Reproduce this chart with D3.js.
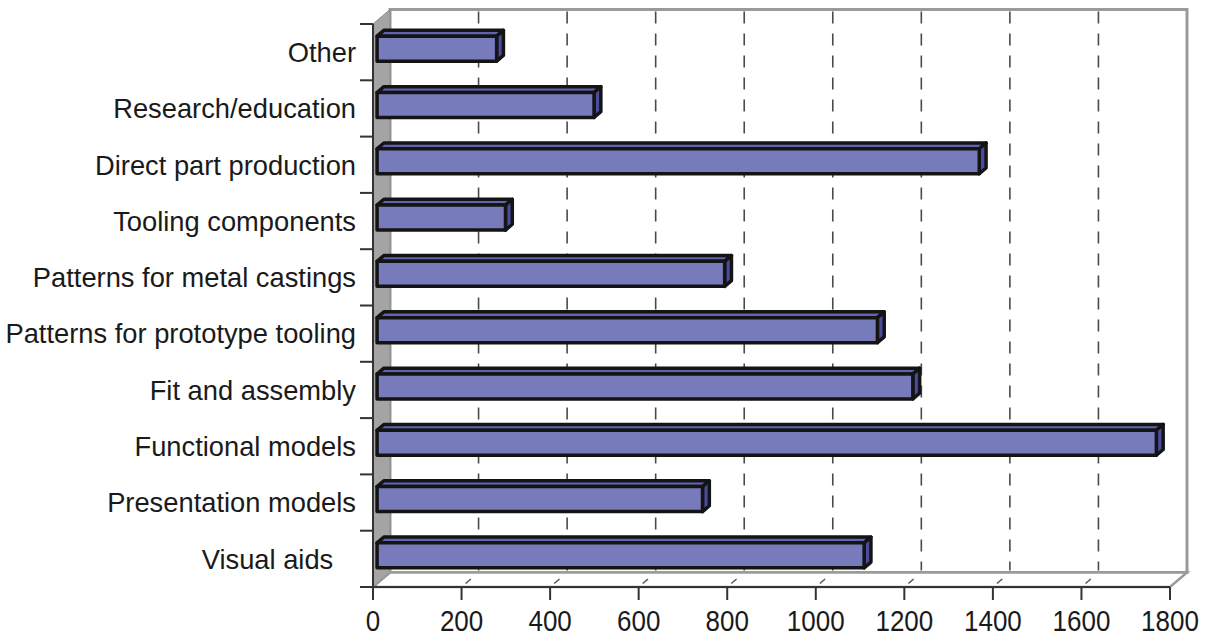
<!DOCTYPE html>
<html>
<head>
<meta charset="utf-8">
<script src="https://cdn.jsdelivr.net/npm/d3@7"></script>
<style>
  html, body { margin: 0; padding: 0; background: #fff; }
  svg { display: block; }
  text { font-family: "Liberation Sans", Arial, sans-serif; fill: #1a1a1a; white-space: pre; }
</style>
</head>
<body>
<div id="chart"></div>
<script>
// categories bottom -> top, as in the picture
const categories = [
  "Visual aids   ",
  "Presentation models",
  "Functional models",
  "Fit and assembly",
  "Patterns for prototype tooling",
  "Patterns for metal castings",
  "Tooling components",
  "Direct part production",
  "Research/education",
  "Other"
];
const values = [1100, 735, 1760, 1210, 1130, 785, 290, 1360, 490, 270];
const xTicks = [0, 200, 400, 600, 800, 1000, 1200, 1400, 1600, 1800];

const width = 1207, height = 637;
const x0 = 373, yTop = 24, yFloor = 587;
const depthX = 17, depthY = 14.5;

const svg = d3.select("#chart").append("svg")
  .attr("width", width)
  .attr("height", height);

const x = d3.scaleLinear().domain([0, 1800]).range([0, 797]);
const y = d3.scaleBand().domain(categories.slice().reverse()).range([yTop, yFloor]);

// value, front-plane y, depth (0 = front, 1 = back wall)
function p(v, yy, d) {
  return [x0 + x(v) + d * depthX, yy - d * depthY];
}
const poly = pts => pts.map(q => q.join(",")).join(" ");

// back wall
svg.append("polygon")
  .attr("points", poly([p(0, yTop, 1), p(1800, yTop, 1), p(1800, yFloor, 1), p(0, yFloor, 1)]))
  .style("fill", "#fff")
  .style("stroke", "#9a9a9a")
  .style("stroke-width", 3);

// side wall
svg.append("polygon")
  .attr("points", poly([p(0, yTop, 0), p(0, yTop, 1), p(0, yFloor, 1), p(0, yFloor, 0)]))
  .style("fill", "#a4a4a4")
  .style("stroke", "#8a8a8a")
  .style("stroke-width", 1);

// floor
svg.append("polygon")
  .attr("points", poly([p(0, yFloor, 0), p(0, yFloor, 1), p(1800, yFloor, 1), p(1800, yFloor, 0)]))
  .style("fill", "#fff")
  .style("stroke", "#9a9a9a")
  .style("stroke-width", 2.5);

// gridlines on back wall
svg.selectAll(".grid")
  .data(xTicks.filter(t => t > 0 && t < 1800))
  .enter().append("line")
  .attr("class", "grid")
  .attr("x1", d => p(d, yTop, 1)[0])
  .attr("x2", d => p(d, yTop, 1)[0])
  .attr("y1", p(0, yTop, 1)[1] + 2)
  .attr("y2", p(0, yFloor, 1)[1] - 2)
  .style("stroke", "#4a4a4a")
  .style("stroke-width", 1.6)
  .style("stroke-dasharray", "12,10");

// short floor ticks
svg.selectAll(".ftick")
  .data(xTicks.filter(t => t > 0 && t < 1800))
  .enter().append("line")
  .attr("x1", d => p(d, yFloor, 0.24)[0])
  .attr("y1", d => p(d, yFloor, 0.24)[1])
  .attr("x2", d => p(d, yFloor, 0.55)[0])
  .attr("y2", d => p(d, yFloor, 0.55)[1])
  .style("stroke", "#555")
  .style("stroke-width", 1.5);

// left axis + category ticks
svg.append("line")
  .attr("x1", x0).attr("x2", x0)
  .attr("y1", yTop).attr("y2", yFloor + 13)
  .style("stroke", "#333").style("stroke-width", 2);

const bounds = y.domain().map(c => y(c)).concat([yFloor]);
svg.selectAll(".ctick")
  .data(bounds)
  .enter().append("line")
  .attr("x1", x0 - 13).attr("x2", x0)
  .attr("y1", d => d).attr("y2", d => d)
  .style("stroke", "#333").style("stroke-width", 2);

// x axis
svg.append("line")
  .attr("x1", x0 - 13).attr("x2", x0 + x(1800))
  .attr("y1", yFloor).attr("y2", yFloor)
  .style("stroke", "#333").style("stroke-width", 2);

svg.selectAll(".xtick")
  .data(xTicks)
  .enter().append("line")
  .attr("x1", d => x0 + x(d)).attr("x2", d => x0 + x(d))
  .attr("y1", yFloor).attr("y2", yFloor + 13)
  .style("stroke", "#333").style("stroke-width", 2);

// tick labels, slightly tall like the original
svg.selectAll(".xlabel")
  .data(xTicks)
  .enter().append("text")
  .attr("transform", d => `translate(${x0 + x(d)},631) scale(1,1.12)`)
  .attr("text-anchor", "middle")
  .style("font-size", "26px")
  .text(d => d);

// category labels
svg.selectAll(".clabel")
  .data(categories)
  .enter().append("text")
  .attr("x", 356)
  .attr("y", d => y(d) + y.bandwidth() / 2)
  .attr("dy", "0.36em")
  .attr("text-anchor", "end")
  .style("font-size", "27.3px")
  .text(d => d);

// 3D bars
const h = 12.5, d1 = 0.24, d2 = 0.64;
const bars = svg.selectAll(".bar")
  .data(categories.map((c, i) => ({ c, v: values[i] })))
  .enter().append("g")
  .attr("class", "bar")
  .style("stroke", "#141414")
  .style("stroke-width", 3.5)
  .style("stroke-linejoin", "round");

bars.append("polygon")
  .attr("points", d => {
    const c = y(d.c) + y.bandwidth() / 2;
    return poly([p(0, c - h, d1), p(d.v, c - h, d1), p(d.v, c - h, d2), p(0, c - h, d2)]);
  })
  .style("fill", "#6264b2");

bars.append("polygon")
  .attr("points", d => {
    const c = y(d.c) + y.bandwidth() / 2;
    return poly([p(d.v, c - h, d1), p(d.v, c - h, d2), p(d.v, c + h, d2), p(d.v, c + h, d1)]);
  })
  .style("fill", "#4a4ca0");

bars.append("polygon")
  .attr("points", d => {
    const c = y(d.c) + y.bandwidth() / 2;
    return poly([p(0, c - h, d1), p(d.v, c - h, d1), p(d.v, c + h, d1), p(0, c + h, d1)]);
  })
  .style("fill", "#787bbb");
</script>
</body>
</html>
